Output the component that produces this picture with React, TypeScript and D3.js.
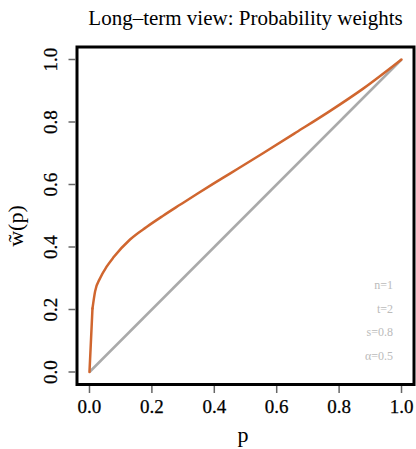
import React from "react";
import * as d3 from "d3";

const pValues = [0, 0.0096, 0.018, 0.034, 0.055, 0.077, 0.13, 0.183, 0.236, 0.29, 0.343, 0.396, 0.45, 0.556, 0.663, 0.769, 0.876, 1.0];
const wValues = [0, 0.203, 0.258, 0.3, 0.337, 0.367, 0.424, 0.464, 0.5, 0.535, 0.569, 0.602, 0.635, 0.7, 0.767, 0.834, 0.906, 1.0];
const diagonal = [0, 1];
const tickValues = [0, 0.2, 0.4, 0.6, 0.8, 1.0];
const annotations = ["n=1", "t=2", "s=0.8", "α=0.5"];

const W = 416, H = 449;
const left = 77, right = 414, top = 47, bottom = 384.5;
const font = "'Liberation Serif', 'Times New Roman', serif";

export default function App() {
  const x = d3.scaleLinear().domain([-0.04, 1.04]).range([left, right]);
  const y = d3.scaleLinear().domain([-0.04, 1.04]).range([bottom, top]);
  const pts = pValues.map((p, i) => [p, wValues[i]] as [number, number]);
  const head = d3.line<[number, number]>().x(d => x(d[0])).y(d => y(d[1]))(pts.slice(0, 2)) || "";
  const tail = d3.line<[number, number]>().x(d => x(d[0])).y(d => y(d[1])).curve(d3.curveMonotoneX)(pts.slice(1)) || "";
  const diag = d3.line<number>().x(d => x(d)).y(d => y(d));
  return (
    <svg width={W} height={H} style={{ position: "absolute", left: 0, top: 0 }}>
      <rect width={W} height={H} fill="white" />
      <text x={(left + right) / 2} y={24.5} textAnchor="middle" fontFamily={font} fontSize={21} fill="#000">
        Long–term view: Probability weights
      </text>
      <path d={diag(diagonal) || ""} fill="none" stroke="#aaaaaa" strokeWidth={2.5} />
      <path d={head} fill="none" stroke="#d0662f" strokeWidth={2.5} strokeLinecap="round" />
      <path d={tail} fill="none" stroke="#d0662f" strokeWidth={2.5} strokeLinecap="round" />
      <rect x={left} y={top} width={right - left} height={bottom - top} fill="none" stroke="#000" strokeWidth={3} />
      {tickValues.map(t => (
        <g key={"x" + t}>
          <line x1={x(t)} x2={x(t)} y1={bottom + 1.5} y2={bottom + 8.5} stroke="#666" strokeWidth={1.5} />
          <text x={x(t)} y={412.5} textAnchor="middle" fontFamily={font} fontSize={19} fill="#000" stroke="#000" strokeWidth={0.25}>{t.toFixed(1)}</text>
        </g>
      ))}
      {tickValues.map(t => (
        <g key={"y" + t}>
          <line x1={left - 1.5} x2={left - 8.5} y1={y(t)} y2={y(t)} stroke="#666" strokeWidth={1.5} />
          <text transform={`translate(57,${y(t)}) rotate(-90)`} textAnchor="middle" fontFamily={font} fontSize={19} fill="#000" stroke="#000" strokeWidth={0.25}>{t.toFixed(1)}</text>
        </g>
      ))}
      <text x={243} y={442} textAnchor="middle" fontFamily={font} fontSize={22} fill="#000">p</text>
      <text transform={`translate(23,226) rotate(-90)`} textAnchor="middle" fontFamily={font} fontSize={22} fill="#000">w̃(p)</text>
      {annotations.map((a, i) => (
        <text key={a} x={393} y={289 + i * 23.6} textAnchor="end" fontFamily={font} fontSize={12} fill="#bbbbbb">{a}</text>
      ))}
    </svg>
  );
}
